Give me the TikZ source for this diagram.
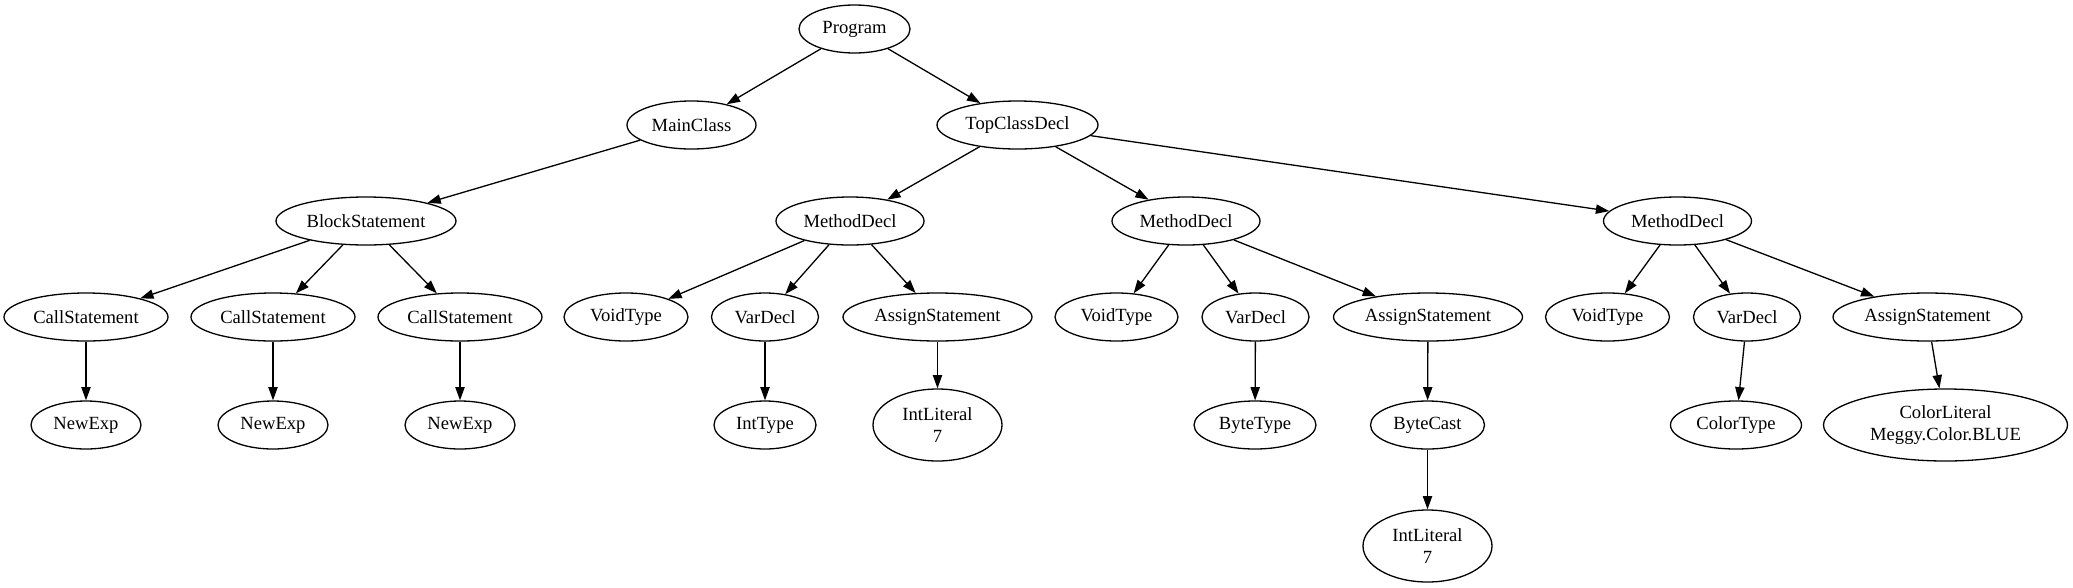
\documentclass[tikz,border=0pt]{standalone}
\usepackage{fontspec}
\setmainfont{Liberation Serif}
\usetikzlibrary{shapes.geometric,arrows.meta}
\begin{document}
\begin{tikzpicture}[x=1pt,y=-1pt,
  nd/.style={ellipse,draw,line width=1.3pt,inner sep=0pt,minimum height=48pt,
    font=\fontsize{18.6}{21.5}\selectfont,align=center},
  tall/.style={minimum height=72pt},
  conn/.style={-{Triangle[length=13.3pt,width=9.3pt]},line width=1.3pt}]
\useasboundingbox (0,0) rectangle (2073,587);
% row 1
\node[nd,minimum width=111pt] (prog) at (854.5,29) {Program};
% row 2
\node[nd,minimum width=129pt] (main) at (691.5,125) {MainClass};
\node[nd,minimum width=161pt] (top) at (1017.5,125) {TopClassDecl};
% row 3
\node[nd,minimum width=180pt] (block) at (366,221) {BlockStatement};
\node[nd,minimum width=148pt] (md1) at (850,221) {MethodDecl};
\node[nd,minimum width=148pt] (md2) at (1186,221) {MethodDecl};
\node[nd,minimum width=148pt] (md3) at (1677.5,221) {MethodDecl};
% row 4
\node[nd,minimum width=164pt] (cs1) at (86,317) {CallStatement};
\node[nd,minimum width=164pt] (cs2) at (273,317) {CallStatement};
\node[nd,minimum width=164pt] (cs3) at (460,317) {CallStatement};
\node[nd,minimum width=124pt] (vt1) at (626,317) {VoidType};
\node[nd,minimum width=107pt] (vd1) at (765,317) {VarDecl};
\node[nd,minimum width=189pt] (as1) at (937.5,317) {AssignStatement};
\node[nd,minimum width=123pt] (vt2) at (1116.5,317) {VoidType};
\node[nd,minimum width=107pt] (vd2) at (1255.5,317) {VarDecl};
\node[nd,minimum width=189pt] (as2) at (1428,317) {AssignStatement};
\node[nd,minimum width=124pt] (vt3) at (1607.5,317) {VoidType};
\node[nd,minimum width=107pt] (vd3) at (1747,317) {VarDecl};
\node[nd,minimum width=189pt] (as3) at (1927.5,317) {AssignStatement};
% row 5
\node[nd,minimum width=110pt] (ne1) at (86,425) {NewExp};
\node[nd,minimum width=110pt] (ne2) at (273,425) {NewExp};
\node[nd,minimum width=110pt] (ne3) at (460,425) {NewExp};
\node[nd,minimum width=102pt] (it) at (765,425) {IntType};
\node[nd,tall,minimum width=129pt] (il1) at (937.5,425) {IntLiteral\\7};
\node[nd,minimum width=122pt] (bt) at (1255,425) {ByteType};
\node[nd,minimum width=114pt] (bc) at (1427.5,425) {ByteCast};
\node[nd,minimum width=131pt] (ct) at (1736,425) {ColorType};
\node[nd,tall,minimum width=244pt] (cl) at (1945.5,425) {ColorLiteral\\Meggy.Color.BLUE};
% row 6
\node[nd,tall,minimum width=129pt] (il2) at (1427.5,546) {IntLiteral\\7};
% edges
\draw[conn] (prog) -- (main);
\draw[conn] (prog) -- (top);
\draw[conn] (main) -- (block);
\draw[conn] (top) -- (md1);
\draw[conn] (top) -- (md2);
\draw[conn] (top) -- (md3);
\draw[conn] (block) -- (cs1);
\draw[conn] (block) -- (cs2);
\draw[conn] (block) -- (cs3);
\draw[conn] (cs1) -- (ne1);
\draw[conn] (cs2) -- (ne2);
\draw[conn] (cs3) -- (ne3);
\draw[conn] (md1) -- (vt1);
\draw[conn] (md1) -- (vd1);
\draw[conn] (md1) -- (as1);
\draw[conn] (vd1) -- (it);
\draw[conn] (as1) -- (il1);
\draw[conn] (md2) -- (vt2);
\draw[conn] (md2) -- (vd2);
\draw[conn] (md2) -- (as2);
\draw[conn] (vd2) -- (bt);
\draw[conn] (as2) -- (bc);
\draw[conn] (bc) -- (il2);
\draw[conn] (md3) -- (vt3);
\draw[conn] (md3) -- (vd3);
\draw[conn] (md3) -- (as3);
\draw[conn] (vd3) -- (ct);
\draw[conn] (as3) -- (cl);
\end{tikzpicture}
\end{document}
